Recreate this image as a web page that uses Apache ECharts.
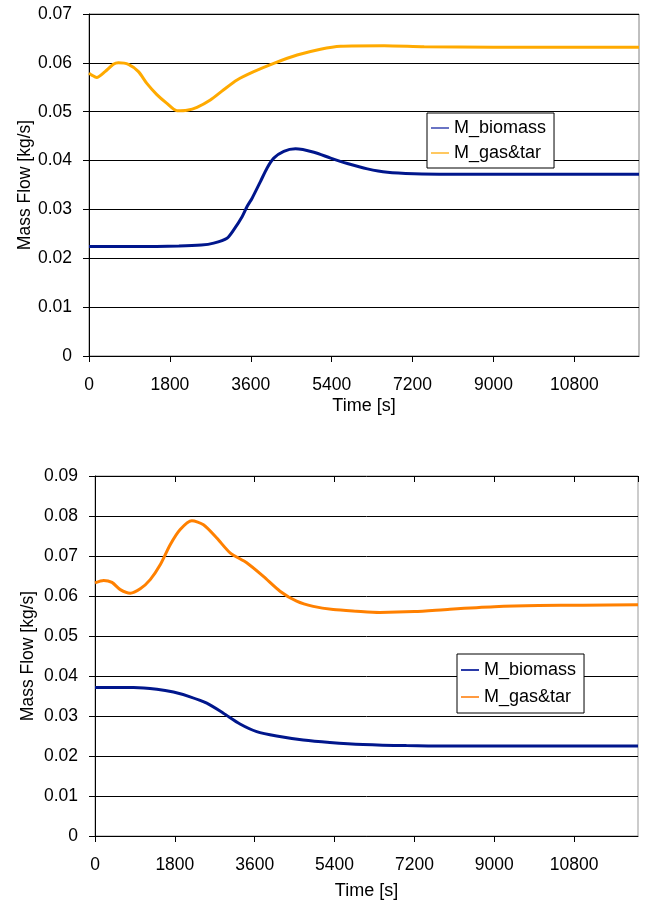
<!DOCTYPE html>
<html>
<head>
<meta charset="utf-8">
<script src="https://cdn.jsdelivr.net/npm/echarts@6/dist/echarts.min.js"></script>
<style>
html,body{margin:0;padding:0;background:#fff;}
#c{width:646px;height:902px;}
</style>
</head>
<body>
<div id="c"></div>
<script>
// ---- Data ----
var xTicks = [0, 1800, 3600, 5400, 7200, 9000, 10800];
var timeMax = 12240;

// Top chart
var topBiomassT = [0, 1000, 2000, 2500, 2774, 3072, 3220, 3407, 3518, 3630, 3815, 3964, 4112, 4335, 4596, 5005, 5377, 5750, 6196, 6642, 7235, 8000, 9000, 10000, 11000, 12240];
var topBiomassV = [0.0224, 0.0224, 0.0225, 0.0227, 0.0231, 0.0241, 0.0258, 0.0285, 0.0306, 0.0323, 0.0357, 0.0385, 0.0405, 0.0419, 0.0424, 0.0417, 0.0405, 0.0394, 0.0383, 0.0376, 0.0373, 0.0372, 0.0372, 0.0372, 0.0372, 0.0372];
var topGasT = [0, 60, 172, 357, 543, 654, 877, 1100, 1287, 1510, 1734, 1957, 2180, 2403, 2700, 2997, 3295, 3667, 4112, 4632, 5152, 5600, 6566, 7459, 9000, 10800, 12240];
var topGasV = [0.0579, 0.0575, 0.0570, 0.0582, 0.0597, 0.0600, 0.0597, 0.0582, 0.0558, 0.0535, 0.0517, 0.0502, 0.0503, 0.0509, 0.0524, 0.0545, 0.0565, 0.0582, 0.0599, 0.0616, 0.0628, 0.0634, 0.0635, 0.0633, 0.0632, 0.0632, 0.0632];

// Bottom chart
var botGasT = [0, 195, 382, 570, 795, 1020, 1245, 1470, 1695, 1920, 2183, 2445, 2745, 3045, 3420, 3795, 4170, 4545, 4920, 5370, 5895, 6420, 7200, 8000, 9000, 10000, 11000, 12240];
var botGasV = [0.0633, 0.0639, 0.0634, 0.0616, 0.0607, 0.0618, 0.0641, 0.0678, 0.0728, 0.0766, 0.0788, 0.0778, 0.0745, 0.0708, 0.0683, 0.0649, 0.0612, 0.0587, 0.0574, 0.0566, 0.0562, 0.0559, 0.0561, 0.0567, 0.0573, 0.0576, 0.0577, 0.0578];
var botBiomassT = [0, 869, 1395, 1769, 2144, 2520, 2894, 3269, 3645, 4095, 4694, 5294, 6044, 7020, 8000, 9000, 10800, 12240];
var botBiomassV = [0.0371, 0.0371, 0.0367, 0.0360, 0.0348, 0.0332, 0.0307, 0.0280, 0.0261, 0.0250, 0.0240, 0.0234, 0.0229, 0.0226, 0.0225, 0.0225, 0.0225, 0.0225];

var seriesNames = ['M_biomass', 'M_gas&tar'];
var axisNames = { x: 'Time [s]', y: 'Mass Flow [kg/s]' };

function pairs(t, v) { return t.map(function (x, i) { return [x, v[i]]; }); }

var FONT = 'Liberation Sans, Arial, sans-serif';
var navy = '#00168C';

function xAxisDef(gi, inside, showAll, gap) {
  return {
    type: 'value', gridIndex: gi, min: 0, max: timeMax, interval: 1800,
    name: showAll ? axisNames.x : '', nameLocation: 'middle', nameGap: gap, nameMoveOverlap: false,
    nameTextStyle: { fontFamily: FONT, fontSize: 18, color: '#000' },
    axisLine: { show: showAll, lineStyle: { color: '#000', width: 1 } },
    axisTick: { show: true, inside: inside, length: 6, lineStyle: { color: '#000' } },
    axisLabel: { show: showAll, margin: 20, fontFamily: FONT, fontSize: 17.5, color: '#000', showMaxLabel: false,
      formatter: function (v) { return xTicks.indexOf(v) >= 0 ? String(v) : ''; } },
    splitLine: { show: false }
  };
}
function yAxisDef(gi, max, gap) {
  return {
    type: 'value', gridIndex: gi, min: 0, max: max, interval: 0.01,
    name: axisNames.y, nameLocation: 'middle', nameGap: gap, nameMoveOverlap: false,
    nameTextStyle: { fontFamily: FONT, fontSize: 17.5, color: '#000' },
    axisLine: { show: true, lineStyle: { color: '#000', width: 1 } },
    axisTick: { show: true, length: 6, lineStyle: { color: '#000' } },
    axisLabel: { margin: 17, fontFamily: FONT, fontSize: 17.5, color: '#000',
      formatter: function (v) { return v === 0 ? '0' : (+v.toFixed(2)).toString(); } },
    splitLine: { show: true, lineStyle: { color: '#000', width: 1 } }
  };
}

var chart = echarts.init(document.getElementById('c'), null, { renderer: 'canvas' });
chart.setOption({
  animation: false,
  backgroundColor: '#fff',
  grid: [
    { left: 89, top: 14, width: 550, height: 342, show: true, borderColor: '#808080', borderWidth: 1, backgroundColor: 'transparent' },
    { left: 95, top: 476, width: 543, height: 360, show: true, borderColor: '#999', borderWidth: 1, backgroundColor: 'transparent' }
  ],
  xAxis: [xAxisDef(0, false, true, 41), xAxisDef(1, false, true, 46), xAxisDef(1, true, false, 0)],
  yAxis: [yAxisDef(0, 0.07, 55), yAxisDef(1, 0.09, 58)],
  legend: [
    {
      left: 427, top: 113, orient: 'vertical', padding: [5, 8, 5, 4], itemGap: 5,
      itemWidth: 18, itemHeight: 2, icon: 'rect',
      borderColor: '#000', borderWidth: 1, backgroundColor: '#fff',
      textStyle: { fontFamily: FONT, fontSize: 18, color: '#000', lineHeight: 20 },
      selectedMode: false,
      data: [
        { name: seriesNames[0], itemStyle: { color: '#6a74c4' } },
        { name: seriesNames[1], itemStyle: { color: '#ffc860' } }
      ]
    },
    {
      left: 457, top: 654, orient: 'vertical', padding: [6, 8, 6, 4], itemGap: 7,
      itemWidth: 18, itemHeight: 2, icon: 'rect',
      borderColor: '#000', borderWidth: 1, backgroundColor: '#fff',
      textStyle: { fontFamily: FONT, fontSize: 18, color: '#000', lineHeight: 20 },
      selectedMode: false,
      data: [
        { name: seriesNames[0], itemStyle: { color: '#2a3aa8' } },
        { name: seriesNames[1], itemStyle: { color: '#ff9a40' } }
      ]
    }
  ],
  series: [
    { name: seriesNames[0], type: 'line', xAxisIndex: 0, yAxisIndex: 0, data: pairs(topBiomassT, topBiomassV),
      smooth: 0.25, showSymbol: false, lineStyle: { color: navy, width: 3 }, itemStyle: { color: navy } },
    { name: seriesNames[1], type: 'line', xAxisIndex: 0, yAxisIndex: 0, data: pairs(topGasT, topGasV),
      smooth: 0.25, showSymbol: false, lineStyle: { color: '#FFAA00', width: 3 }, itemStyle: { color: '#FFAA00' } },
    { name: seriesNames[0], type: 'line', xAxisIndex: 1, yAxisIndex: 1, data: pairs(botBiomassT, botBiomassV),
      smooth: 0.25, showSymbol: false, lineStyle: { color: navy, width: 3 }, itemStyle: { color: navy } },
    { name: seriesNames[1], type: 'line', xAxisIndex: 1, yAxisIndex: 1, data: pairs(botGasT, botGasV),
      smooth: 0.25, showSymbol: false, lineStyle: { color: '#FF8000', width: 3 }, itemStyle: { color: '#FF8000' } }
  ]
});
</script>
</body>
</html>
